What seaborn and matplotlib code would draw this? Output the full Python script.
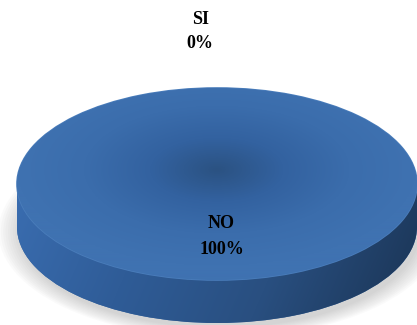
import numpy as np
import matplotlib
matplotlib.use("Agg")
import matplotlib.pyplot as plt
import seaborn as sns
from matplotlib.patches import Rectangle
from matplotlib.colors import LinearSegmentedColormap

# ---- data ----
categories = ["SI", "NO"]
values = [0, 100]
percent_labels = ["0%", "100%"]

sns.set_theme(style="white")
plt.rcParams['font.family'] = ['Liberation Serif', 'DejaVu Serif']

W, H = 417, 325
fig = plt.figure(figsize=(W / 100, H / 100), dpi=100)
fig.patch.set_facecolor("white")
ax = fig.add_axes([0, 0, 1, 1])

# geometry in pixels (layout only)
cx, cy, rx, ry, depth = 217, 184, 200, 96, 43
d = depth / ry


def px(x, y):
    return (x - cx) / rx, (cy - y) / ry


base = "#3a6aa5"
pie_colors = [base, base]

# soft shadow
for i in range(10):
    ax.pie(values, colors=["#808080"] * 2, center=(0.015, -d - 0.05),
           radius=1.0 + 0.012 * i, startangle=90, counterclock=False,
           wedgeprops=dict(linewidth=0, alpha=0.035))

# side (bottom ellipse + body)
side_w, _ = ax.pie(values, colors=pie_colors, center=(0, -d), radius=1,
                   startangle=90, counterclock=False,
                   wedgeprops=dict(linewidth=0))
body = Rectangle((-1, -d), 2, d, facecolor=base, linewidth=0)
ax.add_patch(body)

side_cmap = LinearSegmentedColormap.from_list(
    "side", ["#3a6db0", "#2f5c97", "#294f80", "#1c3759"])
xs = np.linspace(-1, 1, 400)
ys = np.linspace(-d - 1.05, 0.05, 200)
XX, YY = np.meshgrid(xs, ys)
side_img = (XX + 1) / 2 + 0.15 * (-(YY) / (d + 1))
for clip in [side_w[1], body]:
    im = ax.imshow(side_img, extent=(-1, 1, -d - 1.05, 0.05), origin="lower",
                   cmap=side_cmap, vmin=0, vmax=1.1, aspect="auto",
                   interpolation="bilinear", zorder=2)
    im.set_clip_path(clip)

# top face
top_w, _ = ax.pie(values, colors=pie_colors, center=(0, 0), radius=1,
                  startangle=90, counterclock=False,
                  wedgeprops=dict(linewidth=1.2, edgecolor="#4a7dbb"))
for w in top_w:
    w.set_zorder(3)
top_cmap = LinearSegmentedColormap.from_list(
    "top", ["#2b5282", "#3362a0", "#3b6dac", "#3f72b1"])
xs = np.linspace(-1, 1, 400)
ys = np.linspace(-1, 1, 300)
XX, YY = np.meshgrid(xs, ys)
R = np.sqrt(XX ** 2 + (YY - 0.15) ** 2)
im = ax.imshow(R, extent=(-1, 1, -1, 1), origin="lower", cmap=top_cmap,
               vmin=0, vmax=1.0, aspect="auto", interpolation="bilinear",
               zorder=4)
im.set_clip_path(top_w[1])

# labels
lbl_pos = {"SI": ((201, 20), (200, 43)), "NO": ((221, 224), (222, 250))}
for cat, pct in zip(categories, percent_labels):
    (a, b) = lbl_pos[cat]
    ax.text(*px(*a), cat, ha="center", va="center", fontsize=13,
            fontweight="bold", color="black", zorder=10)
    ax.text(*px(*b), pct, ha="center", va="center", fontsize=13,
            fontweight="bold", color="black", zorder=10)

ax.set_aspect("auto")
x0, y0 = px(0, H)
x1, y1 = px(W, 0)
ax.set_xlim(x0, x1)
ax.set_ylim(y0, y1)
ax.axis("off")

fig.savefig("out.png", dpi=100, facecolor="white")
